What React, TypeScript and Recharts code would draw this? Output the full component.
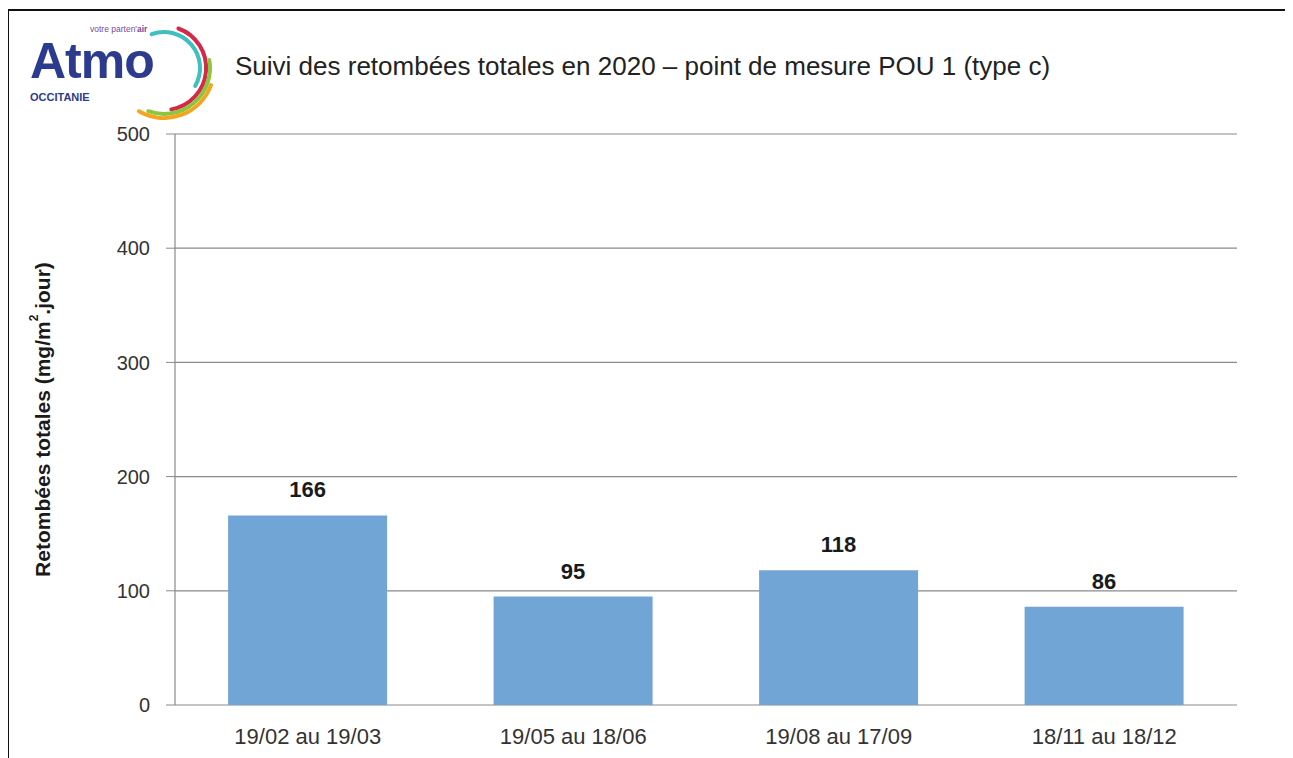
import { Bar, BarChart, CartesianGrid, LabelList, Label, XAxis, YAxis } from 'recharts';

const periods = ['19/02 au 19/03', '19/05 au 18/06', '19/08 au 17/09', '18/11 au 18/12'];
const retombees = [166, 95, 118, 86];
const yTicks = [0, 100, 200, 300, 400, 500];
const boundaryTicks = [0, 1, 2, 3, 4];

const data = periods.map((p, i) => ({ periode: p, valeur: retombees[i], idx: i + 0.5 }));

const FONT = 'Arial, "Liberation Sans", sans-serif';

const renderYLabel = (props: any) => {
  const vb = props.viewBox || {};
  const cx = vb.x - 73;
  const cy = vb.y + vb.height / 2;
  return (
    <text
      x={cx}
      y={cy}
      transform={`rotate(-90 ${cx} ${cy})`}
      textAnchor="middle"
      dominantBaseline="central"
      fontFamily={FONT}
      fontSize={21}
      fontWeight="bold"
      fill="#1a1a1a"
    >
      Retombées totales (mg/m<tspan dy={-8} fontSize={12}>2</tspan>
      <tspan dy={8}>.jour)</tspan>
    </text>
  );
};

function Logo() {
  return (
    <svg width={215} height={112} style={{ position: 'absolute', left: 0, top: 0 }}>
      <text x={82} y={24} fontFamily={FONT} fontSize={8.5} fill="#7a4aa0">
        votre parten'<tspan fontWeight="bold">air</tspan>
      </text>
      <text x={22} y={70} fontFamily={FONT} fontWeight="bold" fontSize={50} fill="#2d3b8e" letterSpacing={-1}>
        Atmo
      </text>
      <text x={22} y={93} fontFamily={FONT} fontWeight="bold" fontSize={11} fill="#2d3b8e">
        OCCITANIE
      </text>
      <g transform="translate(6,2)">
        <path d="M 137.7 24.2 A 36 36 0 0 1 181.2 76" stroke="#3fbfc0" strokeWidth={4} fill="none" strokeLinecap="round" />
        <path d="M 164.4 18.5 A 42 42 0 0 1 157.3 99.4" stroke="#d42a4a" strokeWidth={4} fill="none" strokeLinecap="round" />
        <path d="M 195.3 50 A 46 46 0 0 1 134.3 101.2" stroke="#8cc63f" strokeWidth={4} fill="none" strokeLinecap="round" />
        <path d="M 197 75.1 A 50 50 0 0 1 125 101.3" stroke="#f3a51f" strokeWidth={4} fill="none" strokeLinecap="round" />
      </g>
    </svg>
  );
}

export default function App() {
  return (
    <div style={{ position: 'relative', width: 1285, height: 750, background: '#fff' }}>
      <div style={{ position: 'absolute', left: 0, top: 1, width: 1285, height: 2, background: '#111' }} />
      <div style={{ position: 'absolute', left: -1, top: 1, width: 2, height: 749, background: '#111' }} />
      <div style={{ position: 'absolute', left: 1281, top: 3, width: 1, height: 747, background: '#e4e4e4' }} />
      <Logo />
      <div
        style={{
          position: 'absolute',
          left: 227,
          top: 43,
          fontFamily: FONT,
          fontSize: 26,
          color: '#222',
          whiteSpace: 'nowrap',
        }}
      >
        Suivi des retombées totales en 2020 – point de mesure POU 1 (type c)
      </div>
      <div style={{ position: 'absolute', left: 0, top: 0 }}>
        <BarChart
          width={1285}
          height={750}
          data={data}
          margin={{ top: 126, right: 56, bottom: 13, left: 107 }}
          barCategoryGap="20%"
        >
          <CartesianGrid vertical={false} stroke="#8a8a8a" strokeWidth={1.2} />
          <XAxis
            dataKey="periode"
            xAxisId="cat"
            height={40}
            tickLine={false}
            axisLine={false}
            tickMargin={17}
            tick={{ fontFamily: FONT, fontSize: 22, fill: '#333' }}
            interval={0}
          />
          <XAxis
            dataKey="idx"
            xAxisId="edge"
            type="number"
            domain={[0, 4]}
            ticks={boundaryTicks}
            tick={false}
            tickSize={6}
            height={0}
            stroke="#8a8a8a"
            axisLine={{ stroke: '#8a8a8a', strokeWidth: 1.2 }}
            tickLine={{ stroke: '#8a8a8a' }}
          />
          <YAxis
            width={60}
            domain={[0, 500]}
            ticks={yTicks}
            tickSize={9}
            tickMargin={16}
            axisLine={{ stroke: '#8a8a8a', strokeWidth: 1.2 }}
            tickLine={{ stroke: '#8a8a8a' }}
            tick={{ fontFamily: FONT, fontSize: 20, fill: '#333' }}
          >
            <Label content={renderYLabel} />
          </YAxis>
          <Bar dataKey="valeur" xAxisId="cat" fill="#70a5d6" isAnimationActive={false}>
            <LabelList
              dataKey="valeur"
              position="top"
              offset={18}
              style={{ fontFamily: FONT, fontSize: 22, fontWeight: 'bold', fill: '#1a1a1a' }}
            />
          </Bar>
        </BarChart>
      </div>
    </div>
  );
}
